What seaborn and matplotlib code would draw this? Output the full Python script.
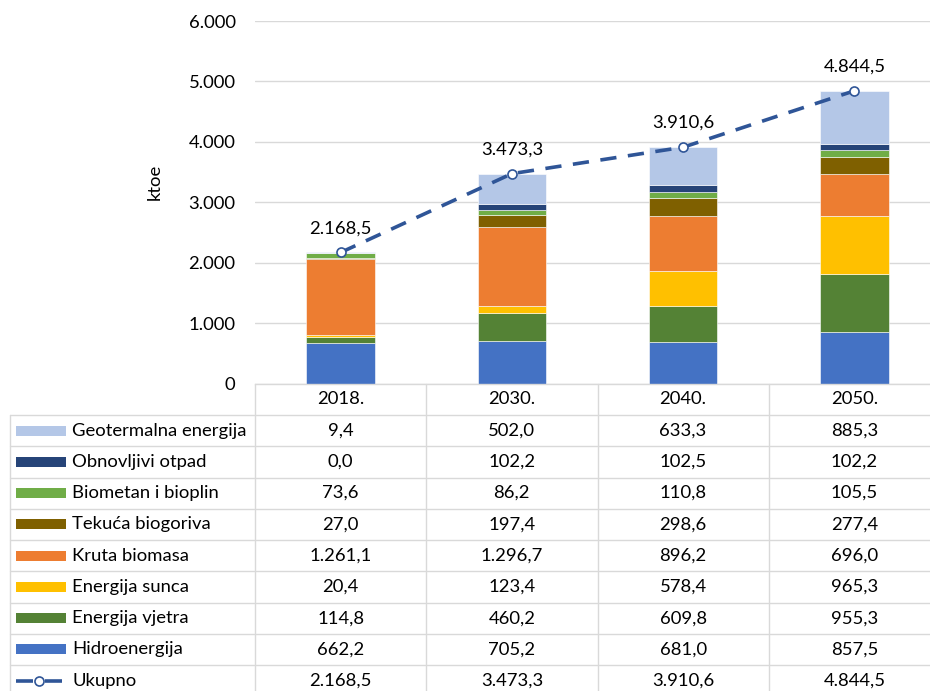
''' stacked renewable energy chart with data table '''

import matplotlib
matplotlib.use('Agg')
import matplotlib.pyplot as plt
from matplotlib.lines import Line2D
from matplotlib.patches import Rectangle
import matplotlib.transforms as mtransforms
import pandas as pd
import seaborn as sns

# data
years = ['2018.', '2030.', '2040.', '2050.']
sources = ['Geotermalna energija', 'Obnovljivi otpad', 'Biometan i bioplin',
           'Tekuća biogoriva', 'Kruta biomasa', 'Energija sunca',
           'Energija vjetra', 'Hidroenergija']
geotermalna = [9.4, 502.0, 633.3, 885.3]
otpad = [0.0, 102.2, 102.5, 102.2]
biometan = [73.6, 86.2, 110.8, 105.5]
biogoriva = [27.0, 197.4, 298.6, 277.4]
biomasa = [1261.1, 1296.7, 896.2, 696.0]
sunce = [20.4, 123.4, 578.4, 965.3]
vjetar = [114.8, 460.2, 609.8, 955.3]
hidro = [662.2, 705.2, 681.0, 857.5]
ukupno = [2168.5, 3473.3, 3910.6, 4844.5]
y_ticks = [0, 1000, 2000, 3000, 4000, 5000, 6000]

colors = ['#B4C7E7', '#264478', '#70AD47', '#7F6000',
          '#ED7D31', '#FFC000', '#548235', '#4472C4']
line_color = '#2F5597'
grid_color = '#D9D9D9'
text_color = '#000000'

series = [geotermalna, otpad, biometan, biogoriva, biomasa, sunce, vjetar, hidro]
rows = []
for name, vals in zip(sources, series):
    for i, v in enumerate(vals):
        rows.append({'pos': i, 'source': name, 'value': v})
df = pd.DataFrame(rows)


def fmt(v, dec=1):
    s = f"{v:,.{dec}f}"
    return s.replace(',', 'X').replace('.', ',').replace('X', '.')


sns.set_theme(style='white')
plt.rcParams['font.family'] = ['Lato', 'DejaVu Sans']
FS = 13.3

W, H = 930, 691
fig = plt.figure(figsize=(W / 100, H / 100), dpi=100)

def fx(x):
    return x / W

def fy(y):
    return 1 - y / H

# plot area (right edge runs past the picture, like the cropped original)
x0, x1 = 255, 940
y_top, y_bot = 21, 383.5
ax = fig.add_axes([fx(x0), fy(y_bot), fx(x1 - x0), (y_bot - y_top) / H])

sns.histplot(data=df, x='pos', hue='source', weights='value', hue_order=sources,
             palette=colors, multiple='stack', discrete=True, shrink=0.4,
             alpha=1, linewidth=0.4, edgecolor='white', legend=False, ax=ax)

sns.lineplot(x=list(range(len(years))), y=ukupno, ax=ax, color=line_color,
             lw=2.6, linestyle=(0, (4.5, 3.2)), marker='o', markersize=6.5,
             markerfacecolor='white', markeredgecolor=line_color,
             markeredgewidth=1.2, sort=False, zorder=5)

for i, v in enumerate(ukupno):
    ax.annotate(fmt(v), (i, v), xytext=(0, 17.5), textcoords='offset points',
                ha='center', va='center', fontsize=FS, color=text_color)

ax.set_xlim(-0.5, 3.5)
ax.set_ylim(0, 6000)
ax.set_yticks(y_ticks)
ax.set_yticklabels([fmt(t, 0) for t in y_ticks], fontsize=FS, color=text_color)
ax.tick_params(axis='y', length=0, pad=14)
ax.set_xticks([])
ax.set_xlabel('')
ax.set_ylabel('ktoe', fontsize=FS, color=text_color)
ax.yaxis.set_label_coords(-0.134, 0.556)
ax.grid(axis='y', color=grid_color, lw=1.0)
ax.set_axisbelow(True)
for side in ['top', 'right', 'left']:
    ax.spines[side].set_visible(False)
ax.spines['bottom'].set_color(grid_color)
ax.spines['bottom'].set_linewidth(1.0)

# data table under the chart
header_top, first_row, row_h = 383.5, 415, 31.25
n_rows = len(sources) + 1
table_bot = first_row + n_rows * row_h
col_edges = [x0 + k * (x1 - x0) / 4 for k in range(5)]

for k in range(n_rows + 1):
    y = first_row + k * row_h
    fig.add_artist(Line2D([fx(10), fx(x1)], [fy(y), fy(y)], color=grid_color, lw=1.0))
fig.add_artist(Line2D([fx(10), fx(10)], [fy(first_row), fy(table_bot)], color=grid_color, lw=1.0))
for xe in col_edges:
    fig.add_artist(Line2D([fx(xe), fx(xe)], [fy(header_top), fy(table_bot)],
                          color=grid_color, lw=1.0))

trans = mtransforms.blended_transform_factory(ax.transData, fig.transFigure)
for i, yr in enumerate(years):
    fig.text(i, fy((header_top + first_row) / 2), yr, transform=trans,
             ha='center', va='center', fontsize=FS, color=text_color)

for r, (name, vals, c) in enumerate(zip(sources, series, colors)):
    yc = first_row + (r + 0.5) * row_h
    fig.add_artist(Rectangle((fx(16), fy(yc + 5)), fx(50), 10 / H,
                             facecolor=c, edgecolor='none'))
    fig.text(fx(72), fy(yc), name, ha='left', va='center', fontsize=FS, color=text_color)
    for i, v in enumerate(vals):
        fig.text(i, fy(yc), fmt(v), transform=trans, ha='center', va='center',
                 fontsize=FS, color=text_color)

# total row with line key
yc = first_row + (n_rows - 0.5) * row_h
for xa, xb in [(16, 33), (45, 62)]:
    fig.add_artist(Line2D([fx(xa), fx(xb)], [fy(yc), fy(yc)], color=line_color,
                          lw=2.6, solid_capstyle='butt'))
fig.add_artist(Line2D([fx(39)], [fy(yc)], marker='o', markersize=6.5,
                      markerfacecolor='white', markeredgecolor=line_color,
                      markeredgewidth=1.2, lw=0))
fig.text(fx(72), fy(yc), 'Ukupno', ha='left', va='center', fontsize=FS, color=text_color)
for i, v in enumerate(ukupno):
    fig.text(i, fy(yc), fmt(v), transform=trans, ha='center', va='center',
             fontsize=FS, color=text_color)

fig.savefig('out.png', dpi=100)
